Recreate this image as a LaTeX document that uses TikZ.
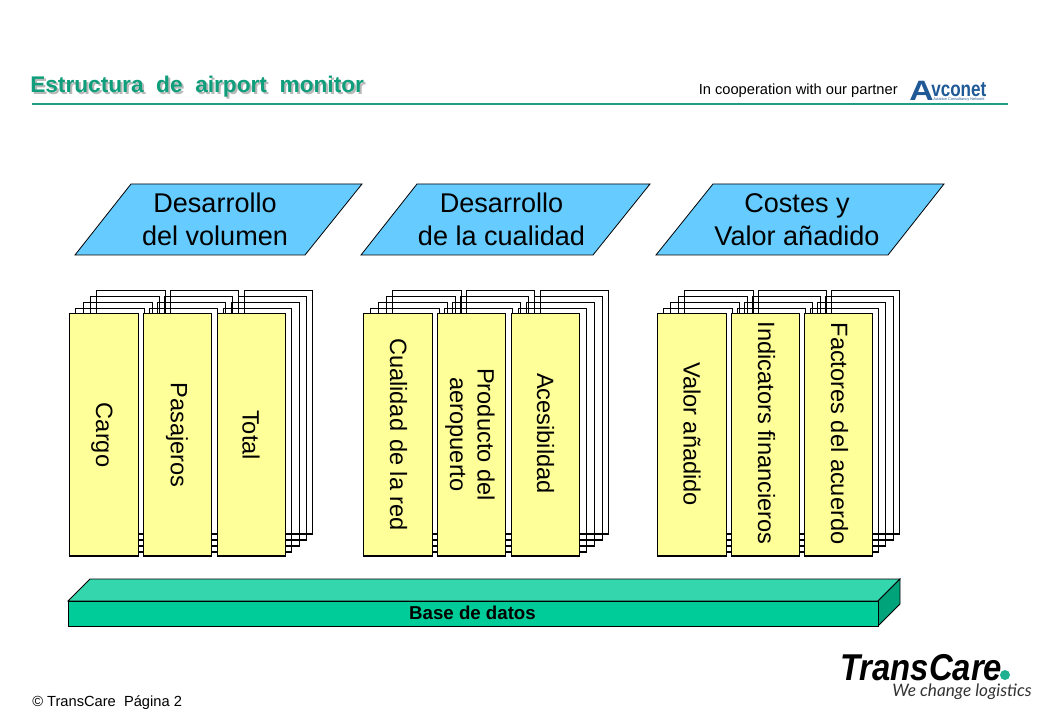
\documentclass[tikz,border=0pt]{standalone}
\usepackage{fontspec}
\setmainfont{Liberation Sans}
\newfontfamily\latoit{Lato Italic}
\definecolor{cardy}{HTML}{FFFF99}
\definecolor{paracy}{HTML}{66CCFF}
\definecolor{basegr}{HTML}{00CC99}
\definecolor{basetop}{HTML}{33D6AD}
\definecolor{baseside}{HTML}{00A37A}
\definecolor{titlegr}{HTML}{0F9E7B}
\definecolor{rulegr}{HTML}{1F9E85}
\definecolor{avblue}{HTML}{1F5A96}
\definecolor{dotgr}{HTML}{1FAF91}
\newcommand{\fs}[1]{\fontsize{#1}{#1}\selectfont}
\tikzset{
  x=0.75pt,y=-0.75pt,
  outl/.style={draw=black,line width=0.85pt,line join=miter},
  backcard/.style={outl},
  frontcard/.style={outl,fill=cardy},
  para/.style={draw=black,line width=0.6pt,fill=paracy},
  paratxt/.style={align=center,font=\fs{20.3},inner sep=0pt},
  cardtxt/.style={rotate=-90,align=center,font=\fs{17.7},inner sep=0pt},
}
\begin{document}
\begin{tikzpicture}
\useasboundingbox (0,0) rectangle (1040,720);
\fill[white] (0,0) rectangle (1040,720);
% title
\node[anchor=base west,inner sep=0pt,font=\bfseries\fs{17},text=black!28,xshift=1.5pt,yshift=-1.5pt] (titleshadow) at (30,92.5) {Estructura\ \ de\ \ airport\ \ monitor};
\node[anchor=base west,inner sep=0pt,font=\bfseries\fs{17},text=titlegr] (title) at (30,92.5) {Estructura\ \ de\ \ airport\ \ monitor};
\draw[rulegr,line width=0.8pt] (32,104) -- (1008,104);
\node[anchor=base west,inner sep=0pt,font=\fs{11}] (coop) at (698.5,94.5) {In cooperation with our partner};
% Avconet logo
\node[anchor=base west,inner sep=0pt,text=avblue] (avA) at (909,100.5) {\fs{21}\bfseries\scalebox{1.2}[1]{A}};
\node[anchor=base west,inner sep=0pt,text=avblue] (avrest) at (931,96.5) {\fs{16}\bfseries\scalebox{0.8}[1]{vconet}};
\node[anchor=base west,inner sep=0pt,font=\fs{2.9},text=avblue] (avsub) at (933,100.5) {Aviation Consultancy Network};
% parallelograms
\draw[para] (75,255) -- (131,184) -- (362,184) -- (305,255) -- cycle;
\draw[para] (361,255) -- (417,184) -- (650,184) -- (593,255) -- cycle;
\draw[para] (656,255) -- (713,184) -- (944,184) -- (888,255) -- cycle;
\node[paratxt] (p1) at (215,219.5) {Desarrollo\\[4pt]del volumen};
\node[paratxt] (p2) at (501.5,219.5) {Desarrollo\\[4pt]de la cualidad};
\node[paratxt] (p3) at (797,219.5) {Costes y\\[4pt]Valor añadido};
% card stacks
\foreach \gx/\last/\oa/\ob/\oc/\od in {0/0/6.5/14/21.5/27.5,294/0/7.5/15/23/29,588/-1/6/13/21/27}{
  \foreach \cx/\cw in {69.3/69,143.3/68,{217.3+\last}/68}{
    \foreach \dx/\dy/\db in {\od/23/22,\oc/17/16,\ob/11/10,\oa/5/4}{
      \draw[backcard] (\gx+\cx+\dx,313.3-\dy) rectangle (\gx+\cx+\cw+\dx,556-\db);
    }
  }
  \foreach \cx/\cw in {69.3/69,143.3/68,{217.3+\last}/68}{
    \draw[frontcard] (\gx+\cx,313.3) rectangle (\gx+\cx+\cw,556);
  }
}
\node[cardtxt] (c1) at (102,435) {Cargo};
\node[cardtxt] (c2) at (177,435) {Pasajeros};
\node[cardtxt] (c3) at (251,435) {Total};
\node[cardtxt] (c4) at (398.5,434.5) {Cualidad\hspace{1pt} de la red};
\node[cardtxt] (c5) at (470,434.5) {Producto del\\[3pt]aeropuerto};
\node[cardtxt] (c6) at (545.5,433.5) {Acesibildad};
\node[cardtxt] (c7) at (692,434) {Valor añadido};
\node[cardtxt] (c8) at (766.5,433) {Indicators financieros};
\node[cardtxt] (c9) at (839.5,433.5) {Factores del acuerdo};
% base
\draw[para,fill=basetop,line join=miter] (68,601) -- (90,579) -- (900,579) -- (878,601) -- cycle;
\draw[para,fill=baseside,line join=miter] (878,601) -- (900,579) -- (900,604) -- (878,626) -- cycle;
\draw[para,fill=basegr,line join=miter] (68,601) rectangle (878,626);
\node[inner sep=0pt,font=\bfseries\fs{14}] (base) at (472.5,613) {Base de datos};
% footer
\node[anchor=base west,inner sep=0pt,font=\fs{11}] (foot) at (32,706) {© TransCare\ \ Página 2};
% TransCare logo
\node[anchor=base west,inner sep=0pt] (tc) at (840,680.5) {\fs{28}\bfseries\itshape\scalebox{0.88}[1]{TransCare}};
\fill[dotgr] (1005,675) circle (5);
\node[anchor=base west,inner sep=0pt,font=\latoit\fs{12.9},text=black!80] (tag) at (892,696) {We change logistics};
\end{tikzpicture}
\end{document}
